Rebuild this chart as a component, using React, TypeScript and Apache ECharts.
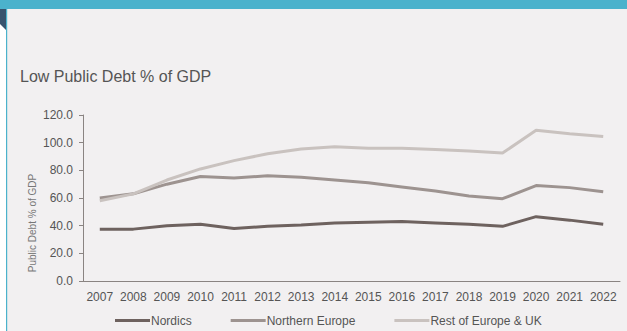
import React, { useEffect, useRef } from "react";
import * as echarts from "echarts";

const years = ["2007","2008","2009","2010","2011","2012","2013","2014","2015","2016","2017","2018","2019","2020","2021","2022"];
const nordics = [37.5, 37.5, 40, 41, 38, 39.5, 40.5, 42, 42.5, 43, 42, 41, 39.5, 46.5, 44, 41];
const northernEurope = [60, 63, 70, 75.5, 74.5, 76, 75, 73, 71, 68, 65, 61.5, 59.5, 69, 67.5, 64.5];
const restOfEurope = [58, 63, 73, 81, 87, 92, 95.5, 97, 96, 96, 95, 94, 92.5, 109, 106.5, 104.5];
const yTicks = { min: 0, max: 120, interval: 20 };

export default function App() {
  const ref = useRef<HTMLDivElement>(null);
  useEffect(() => {
    if (!ref.current) return;
    const chart = echarts.init(ref.current, undefined, { renderer: "svg" });
    const font = "'Liberation Sans', Arial, sans-serif";
    chart.setOption({
      animation: false,
      backgroundColor: "#ffffff",
      textStyle: { fontFamily: font },
      graphic: [
        { type: "rect", shape: { x: 7, y: 9, width: 620, height: 322 }, style: { fill: "#f2f0f1" }, z: -10 },
        { type: "rect", shape: { x: 0, y: 0, width: 627, height: 9 }, style: { fill: "#4bb2cc" }, z: -5 },
        { type: "rect", shape: { x: 6, y: 9, width: 1.2, height: 322 }, style: { fill: "#4bb2cc" }, z: -5 },
        { type: "polygon", shape: { points: [[0, 9], [6, 9], [6, 30], [0, 24]] }, style: { fill: "#37536e" }, z: -5 },
        {
          type: "text", x: 20, y: 76,
          style: { text: "Low Public Debt % of GDP", fill: "#555555", font: `16px ${font}`, verticalAlign: "middle" },
        },
        {
          type: "text", x: 32, y: 223, rotation: Math.PI / 2,
          style: { text: "Public Debt % of GDP", fill: "#777777", font: `10px ${font}`, align: "center", verticalAlign: "middle" },
        },
      ],
      legend: {
        left: 115,
        top: 314,
        padding: 0,
        itemWidth: 35,
        itemHeight: 3,
        itemGap: 39,
        icon: "rect",
        textStyle: { color: "#555555", fontSize: 12, fontFamily: font, padding: [0, 0, 0, -4], lineHeight: 13 },
        data: ["Nordics", "Northern Europe", "Rest of Europe & UK"],
      },
      grid: { left: 83, right: 7, top: 115, bottom: 50 },
      xAxis: {
        type: "category",
        data: years,
        boundaryGap: true,
        axisLine: { lineStyle: { color: "#8a8482", width: 1 } },
        axisTick: { show: false },
        axisLabel: { color: "#555555", fontSize: 12, margin: 10, interval: 0 },
      },
      yAxis: {
        type: "value",
        min: yTicks.min,
        max: yTicks.max,
        interval: yTicks.interval,
        axisLine: { show: true, lineStyle: { color: "#8a8482", width: 1 } },
        axisTick: { show: true, length: 4, lineStyle: { color: "#8a8482" } },
        splitLine: { show: false },
        axisLabel: { color: "#555555", fontSize: 12, margin: 10, formatter: (v: number) => v.toFixed(1) },
      },
      series: [
        { name: "Nordics", type: "line", data: nordics, symbol: "none", lineStyle: { width: 3, color: "#6e625f" }, itemStyle: { color: "#6e625f" } },
        { name: "Northern Europe", type: "line", data: northernEurope, symbol: "none", lineStyle: { width: 3, color: "#9d9390" }, itemStyle: { color: "#9d9390" } },
        { name: "Rest of Europe & UK", type: "line", data: restOfEurope, symbol: "none", lineStyle: { width: 3, color: "#c9c2bf" }, itemStyle: { color: "#c9c2bf" } },
      ],
    });
    return () => chart.dispose();
  }, []);
  return <div ref={ref} style={{ position: "absolute", left: 0, top: 0, width: 627, height: 331 }} />;
}
